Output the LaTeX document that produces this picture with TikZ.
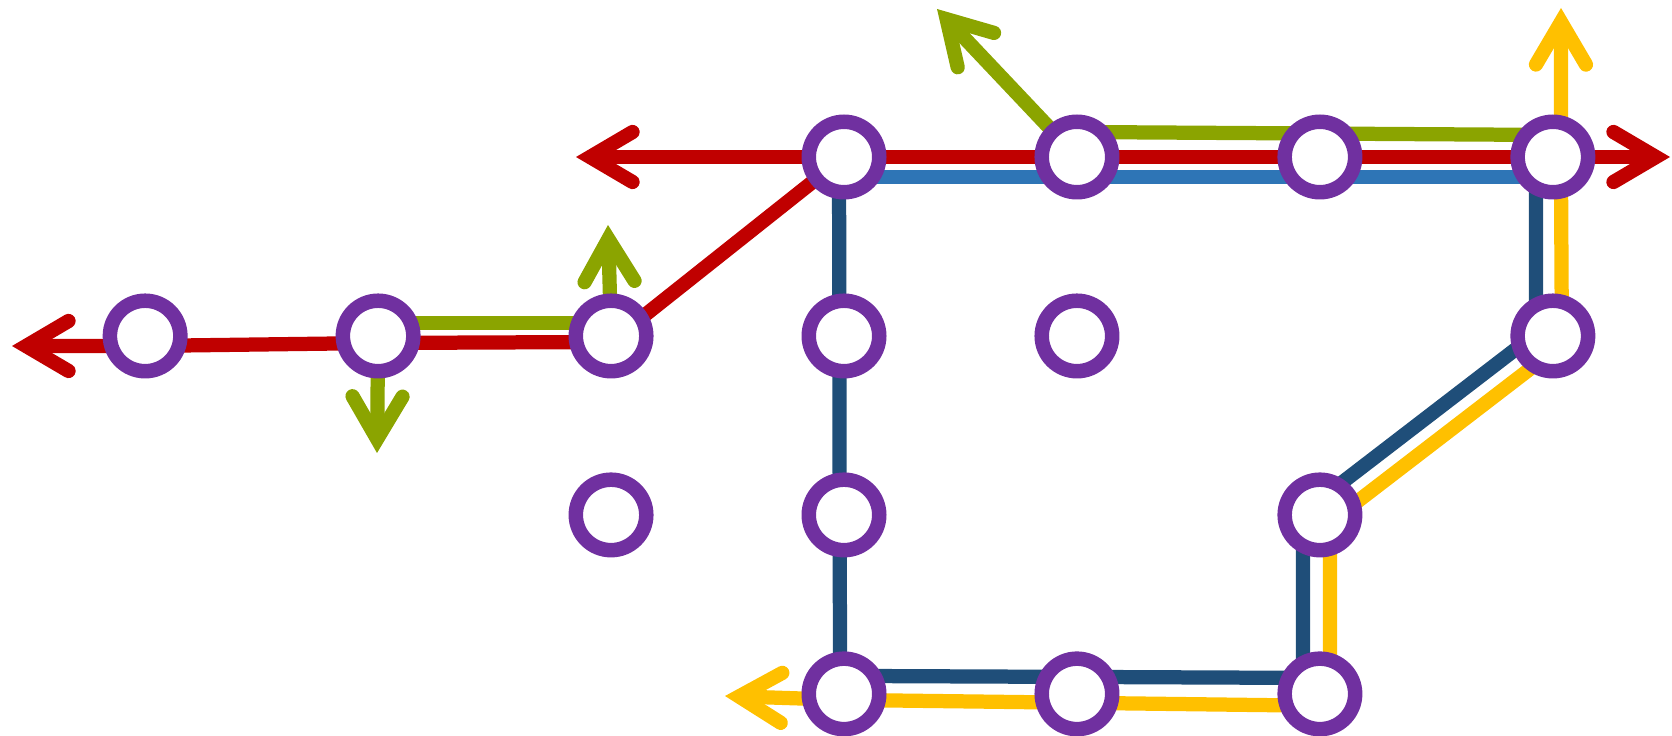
\documentclass[tikz,border=0pt]{standalone}
\usetikzlibrary{arrows.meta,positioning,calc,backgrounds}

\definecolor{stpurple}{RGB}{112,48,160}
\definecolor{trred}{RGB}{192,0,0}
\definecolor{trolive}{RGB}{139,164,0}
\definecolor{trblue}{RGB}{46,117,182}
\definecolor{trdark}{RGB}{31,78,121}
\definecolor{tryellow}{RGB}{255,192,0}

\tikzset{
  station/.style={circle,draw=stpurple,fill=white,line width=0.29cm,minimum size=1.41cm,inner sep=0pt},
  track/.style={line width=0.285cm,line join=round}
}

\begin{document}
\begin{tikzpicture}[x=0.02cm,y=-0.02cm,>={Straight Barb[length=0.85cm,width=1.0cm,line cap=round,line join=miter]},node distance=3.58cm and 4.66cm,on grid]

\useasboundingbox (0,0) rectangle (1672,736);

% stations
\node[station] (a1) at (844,157) {};
\node[station] (a2) [right=of a1] {};
\node[station] (a3) [right=4.86cm of a2] {};
\node[station] (a4) [right=of a3] {};
\node[station] (b4) [below=of a1] {};
\node[station] (b3) [left=of b4] {};
\node[station] (b2) [left=of b3] {};
\node[station] (b1) [left=of b2] {};
\node[station] (b5) [below=of a2] {};
\node[station] (b6) [below=of a4] {};
\node[station] (c2) [below=of b4] {};
\node[station] (c1) [left=of c2] {};
\node[station] (d1) [below=of c2] {};
\node[station] (d2) [right=of d1] {};
\node[station] (d3) [right=4.86cm of d2] {};
\node[station] (c3) [above=of d3] {};

% line ends
\coordinate (redW) at (12,346);
\coordinate (redNW) at (576,157);
\coordinate (redE) at (1670,157);
\coordinate (oliveUp) at (608,225);
\coordinate (oliveDown) at (377,453);
\coordinate (oliveNW) at (937,9);
\coordinate (yellowN) at (1561,8);
\coordinate (yellowW) at (725,696);

\begin{scope}[on background layer]
  % red
  \draw[track,trred,<-] (redW) -- ($(b1)+(0,10)$) -- ($(b2)+(0,7)$) -- ($(b3)+(0,6)$) -- (a1.center);
  \draw[track,trred,<->] (redNW) -- (a1.center) -- (a2.center) -- (a3.center) -- (a4.center) -- (redE);
  % olive
  \draw[track,trolive] ($(b2)+(0,-13)$) -- ($(b3)+(0,-13)$);
  \draw[track,trolive,->] (b3.center) -- (oliveUp);
  \draw[track,trolive,->] (b2.center) -- (oliveDown);
  \draw[track,trolive,->] (a2.center) -- (oliveNW);
  \draw[track,trolive] ($(a2)+(0,-25)$) -- ($(a4)+(0,-22)$);
  % blue
  \draw[track,trblue] ($(a1)+(0,20)$) -- ($(a4)+(0,20)$);
  % dark blue
  \draw[track,trdark] ($(a4)+(-17,20)$) -- ($(b6)+(-17,0)$) -- ($(b6)+(-7,-10)$)
    -- ($(c3)+(-7,-10)$) -- ($(c3)+(-17,0)$) -- ($(d3)+(-17,-16)$)
    -- ($(d1)+(-4,-18)$) -- ($(a1)+(-5,0)$);
  % yellow
  \draw[track,tryellow,<->] (yellowN) -- ($(a4)+(8,0)$) -- ($(b6)+(9,0)$) -- ($(b6)+(7,10)$)
    -- ($(c3)+(7,10)$) -- ($(c3)+(10,0)$) -- ($(d3)+(10,12)$)
    -- ($(d1)+(0,6)$) -- (yellowW);
\end{scope}

\end{tikzpicture}
\end{document}
